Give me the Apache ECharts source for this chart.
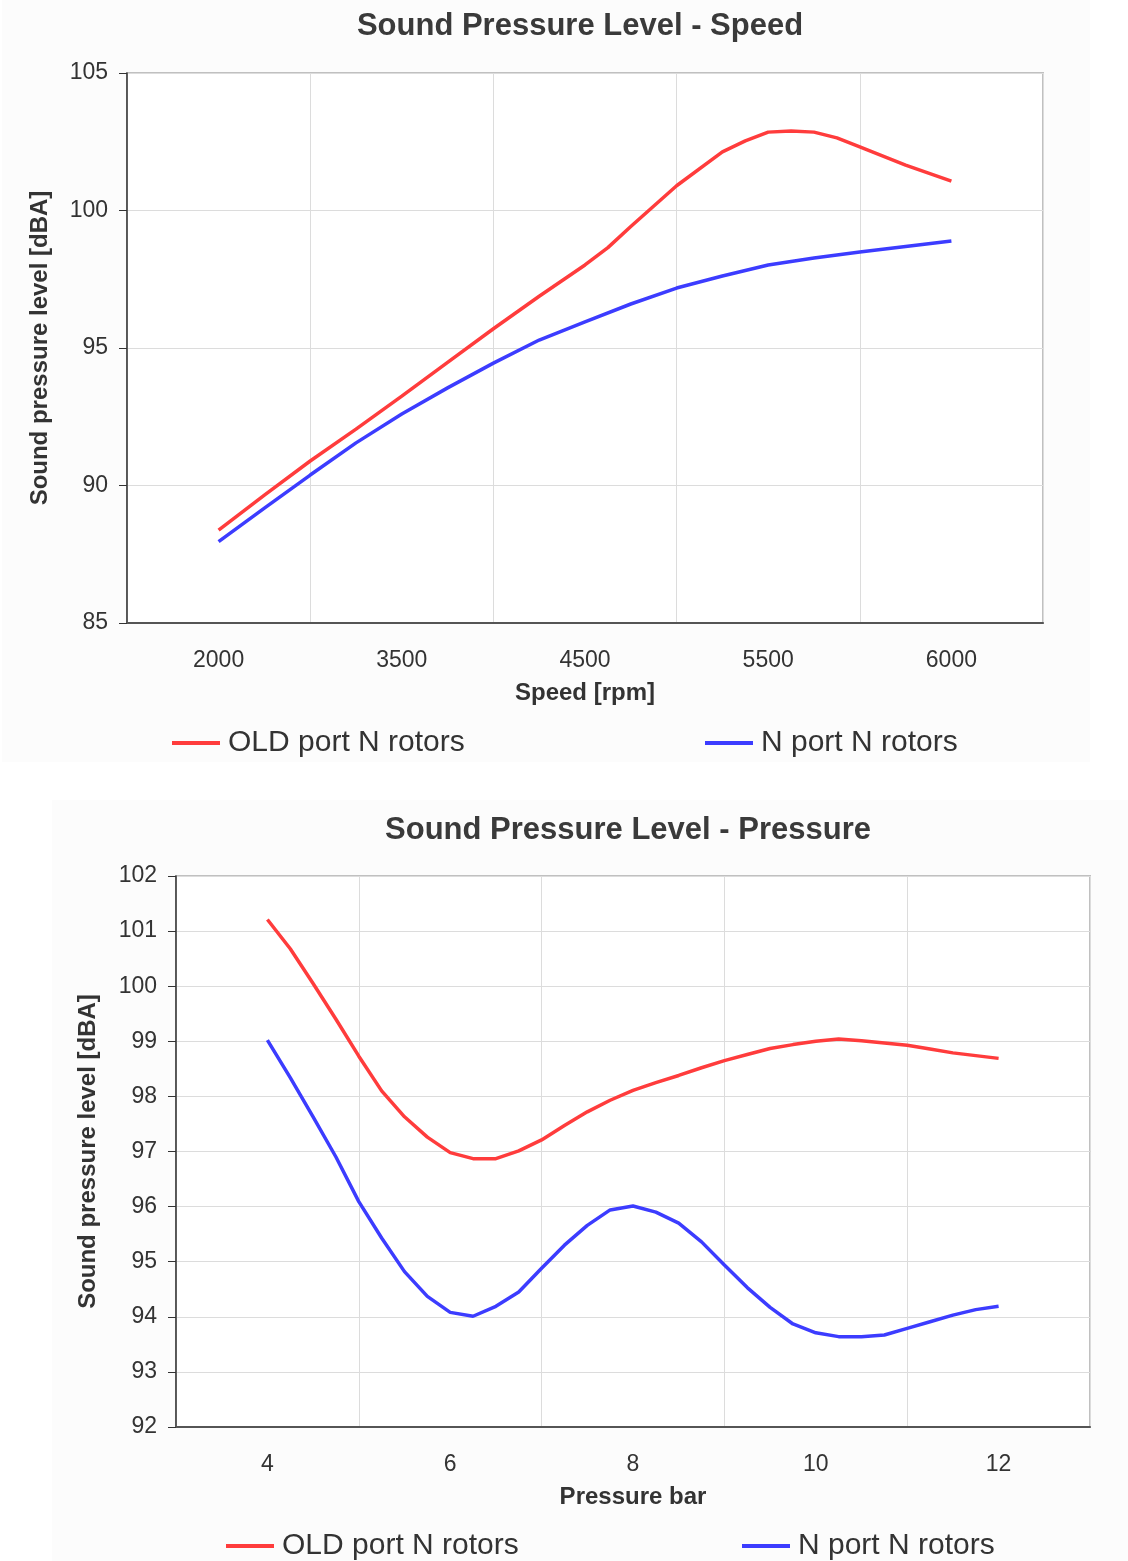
<!DOCTYPE html>
<html>
<head>
<meta charset="utf-8">
<script src="https://cdn.jsdelivr.net/npm/echarts@6/dist/echarts.min.js"></script>
<style>
html,body{margin:0;padding:0;background:#ffffff;}
#chart{width:1128px;height:1561px;}
</style>
</head>
<body>
<div id="chart"></div>
<script>
// ---- Data ----
const speedLabels = ['2000', '3500', '4500', '5500', '6000'];
// positions along the speed axis (0 = first label, 4 = last label)
const oldSpeedPos = [0, 0.25, 0.5, 0.75, 1, 1.25, 1.5, 1.75, 2, 2.125, 2.25, 2.5, 2.75, 2.875, 3, 3.125, 3.25, 3.375, 3.5, 3.75, 4];
const oldSpeedSPL = [88.38, 89.65, 90.89, 92.05, 93.25, 94.48, 95.70, 96.88, 98.02, 98.65, 99.42, 100.90, 102.13, 102.53, 102.85, 102.89, 102.85, 102.64, 102.31, 101.65, 101.07];
const newSpeedPos = [0, 0.25, 0.5, 0.75, 1, 1.25, 1.5, 1.75, 2, 2.25, 2.5, 2.75, 3, 3.25, 3.5, 3.75, 4];
const newSpeedSPL = [87.96, 89.18, 90.38, 91.55, 92.60, 93.55, 94.45, 95.29, 95.95, 96.60, 97.18, 97.62, 98.02, 98.27, 98.49, 98.69, 98.89];

const pressureLabels = ['4', '6', '8', '10', '12'];
const pressureBar = [4, 4.25, 4.5, 4.75, 5, 5.25, 5.5, 5.75, 6, 6.25, 6.5, 6.75, 7, 7.25, 7.5, 7.75, 8, 8.25, 8.5, 8.75, 9, 9.25, 9.5, 9.75, 10, 10.25, 10.5, 10.75, 11, 11.25, 11.5, 11.75, 12];
const oldPressureSPL = [101.21, 100.68, 100.05, 99.40, 98.73, 98.10, 97.63, 97.26, 96.98, 96.87, 96.87, 97.01, 97.21, 97.47, 97.72, 97.93, 98.11, 98.25, 98.38, 98.52, 98.65, 98.76, 98.87, 98.94, 99.00, 99.04, 99.01, 98.97, 98.93, 98.86, 98.79, 98.74, 98.69];
const newPressureSPL = [99.02, 98.34, 97.63, 96.90, 96.09, 95.43, 94.82, 94.37, 94.08, 94.01, 94.19, 94.45, 94.88, 95.30, 95.66, 95.94, 96.01, 95.90, 95.70, 95.36, 94.94, 94.53, 94.17, 93.87, 93.71, 93.64, 93.64, 93.67, 93.79, 93.91, 94.03, 94.13, 94.19];

const speedYTicks = [85, 90, 95, 100, 105];
const pressureYTicks = [92, 93, 94, 95, 96, 97, 98, 99, 100, 101, 102];

const seriesNames = ['OLD port N rotors', 'N port N rotors'];
const RED = '#ff3c3c';
const BLUE = '#3c3cff';
const FONT = '"Liberation Sans", Arial, sans-serif';

function pairs(xs, ys) { return xs.map((x, i) => [x, ys[i]]); }

const chart = echarts.init(document.getElementById('chart'), null, {renderer: 'canvas'});

function catAxis(gridIndex, labels, name) {
  return {
    type: 'category', gridIndex: gridIndex, data: labels, boundaryGap: true,
    position: 'bottom',
    axisLine: {show: true, onZero: false, lineStyle: {color: '#555', width: 2}},
    axisTick: {show: false},
    splitLine: {show: true, lineStyle: {color: '#dcdcdc', width: 1}},
    axisLabel: {color: '#333', fontSize: 23, fontFamily: FONT, margin: 26},
    name: name, nameLocation: 'middle', nameGap: 58,
    nameTextStyle: {color: '#333', fontSize: 24, fontWeight: 'bold', fontFamily: FONT}
  };
}
function valAxisHidden(gridIndex, min, max) {
  return {type: 'value', gridIndex: gridIndex, min: min, max: max, show: false};
}
function yAxis(gridIndex, ticks, gap) {
  return {
    type: 'value', gridIndex: gridIndex, position: 'left',
    min: ticks[0], max: ticks[ticks.length - 1], interval: ticks[1] - ticks[0],
    axisLine: {show: true, onZero: false, lineStyle: {color: '#333', width: 1.5}},
    axisTick: {show: true, length: 8, lineStyle: {color: '#333'}},
    splitLine: {show: true, lineStyle: {color: '#dcdcdc', width: 1}},
    axisLabel: {color: '#333', fontSize: 23, fontFamily: FONT, margin: 19},
    name: 'Sound pressure level [dBA]', nameLocation: 'middle', nameRotate: 90, nameGap: gap,
    nameTextStyle: {color: '#333', fontSize: 24, fontWeight: 'bold', fontFamily: FONT}
  };
}
function legend(name, left, top) {
  return {
    data: [name], left: left, top: top, icon: 'rect', itemWidth: 48, itemHeight: 4,
    padding: 5, selectedMode: false,
    textStyle: {color: '#333', fontSize: 30, fontFamily: FONT, padding: [0, 0, 0, 3]}
  };
}
function line(name, color, xi, yi, data) {
  return {
    name: name, type: 'line', xAxisIndex: xi, yAxisIndex: yi, data: data,
    showSymbol: false, symbol: 'none', color: color,
    lineStyle: {color: color, width: 3.5}, silent: true
  };
}

const option = {
  animation: false,
  backgroundColor: '#ffffff',
  graphic: [
    {type: 'rect', shape: {x: 2, y: 0, width: 1088, height: 762}, style: {fill: '#fcfcfc'}, z: -10},
    {type: 'rect', shape: {x: 52, y: 800, width: 1076, height: 761}, style: {fill: '#fcfcfc'}, z: -10},
    {type: 'text', x: 580, y: 26, style: {text: 'Sound Pressure Level - Speed', font: 'bold 31px ' + FONT, fill: '#3a3a3a', textAlign: 'center', textVerticalAlign: 'middle'}},
    {type: 'text', x: 628, y: 830, style: {text: 'Sound Pressure Level - Pressure', font: 'bold 31px ' + FONT, fill: '#3a3a3a', textAlign: 'center', textVerticalAlign: 'middle'}}
  ],
  grid: [
    {left: 127, top: 73, width: 916, height: 550, show: true, backgroundColor: '#ffffff', borderColor: '#c0c0c0', borderWidth: 2},
    {left: 176, top: 876, width: 914, height: 551, show: true, backgroundColor: '#ffffff', borderColor: '#c0c0c0', borderWidth: 2}
  ],
  xAxis: [
    catAxis(0, speedLabels, 'Speed [rpm]'),
    valAxisHidden(0, -0.5, 4.5),
    catAxis(1, pressureLabels, 'Pressure bar'),
    valAxisHidden(1, 3, 13)
  ],
  yAxis: [
    yAxis(0, speedYTicks, 75),
    yAxis(1, pressureYTicks, 76)
  ],
  legend: [
    legend(seriesNames[0], 167, 723),
    legend(seriesNames[1], 700, 723),
    legend(seriesNames[0], 221, 1526),
    legend(seriesNames[1], 737, 1526)
  ],
  series: [
    line(seriesNames[0], RED, 1, 0, pairs(oldSpeedPos, oldSpeedSPL)),
    line(seriesNames[1], BLUE, 1, 0, pairs(newSpeedPos, newSpeedSPL)),
    line(seriesNames[0], RED, 3, 1, pairs(pressureBar, oldPressureSPL)),
    line(seriesNames[1], BLUE, 3, 1, pairs(pressureBar, newPressureSPL))
  ]
};
chart.setOption(option);
</script>
</body>
</html>
